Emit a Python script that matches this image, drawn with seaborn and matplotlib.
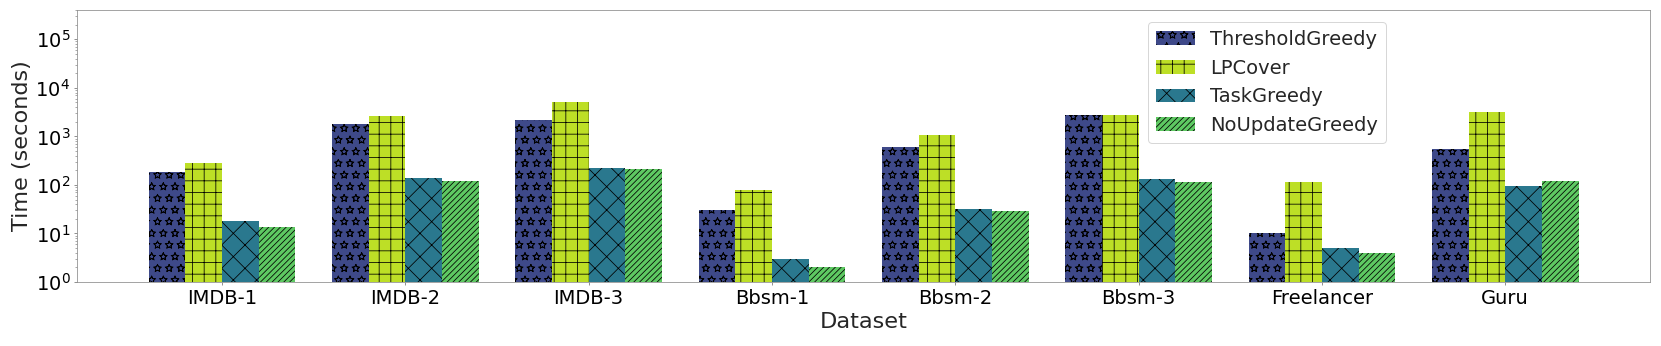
import pandas as pd
import seaborn as sns
import matplotlib.pyplot as plt
import matplotlib.hatch
from matplotlib.patches import Patch

# Running time per dataset (seconds)
datasets = ["IMDB-1", "IMDB-2", "IMDB-3", "Bbsm-1", "Bbsm-2", "Bbsm-3", "Freelancer", "Guru"]
algorithms = ["ThresholdGreedy", "LPCover", "TaskGreedy", "NoUpdateGreedy"]
threshold_greedy = [187, 1780, 2200, 30, 613, 2690, 10, 537]
lp_cover = [287, 2650, 5200, 80, 1070, 2800, 113, 3100]
task_greedy = [18, 138, 218, 3.0, 31.4, 130, 5.1, 93]
no_update_greedy = [13.8, 120, 215, 2.0, 28.5, 117, 4.0, 123]

colors = ["#3e4989", "#bddf26", "#2a788e", "#5ec962"]
hatches = ["*", "+", "x", "////"]

# long format table for seaborn
series = [threshold_greedy, lp_cover, task_greedy, no_update_greedy]
rows = []
for algo, vals in zip(algorithms, series):
    for ds, v in zip(datasets, vals):
        rows.append({"Dataset": ds, "Algorithm": algo, "Time": v})
data = pd.DataFrame(rows)

sns.set_style("ticks", rc={"axes.edgecolor": "0.55", "xtick.color": "0.45", "ytick.color": "0.45",
                           "xtick.major.size": 3.5, "ytick.major.size": 3.5,
                           "ytick.minor.size": 2, "axes.linewidth": 1.0})
plt.rcParams["font.family"] = ["DejaVu Sans"]
plt.rcParams["hatch.color"] = "black"
plt.rcParams["hatch.linewidth"] = 0.8
# outlined stars instead of solid ones
matplotlib.hatch.Stars.filled = False

dpi = 70
fig, ax = plt.subplots(figsize=(1661 / dpi, 346 / dpi), dpi=dpi)
fig.subplots_adjust(left=0.0464, right=0.9934, bottom=0.185, top=0.971)

ax.set_yscale("log")
sns.barplot(data=data, x="Dataset", y="Time", hue="Algorithm", order=datasets,
            hue_order=algorithms, palette=colors, saturation=1, errorbar=None,
            edgecolor="black", linewidth=0, legend=False, ax=ax)

# apply a hatch per algorithm
for container, h in zip(ax.containers, hatches):
    for bar in container:
        bar.set_hatch(h)

ax.set_ylim(1, 4e5)
ax.set_xlim(-0.79, 7.79)
ax.set_xlabel("Dataset", fontsize=23)
ax.set_ylabel("Time (seconds)", fontsize=23)
ax.tick_params(axis="both", labelsize=20, labelcolor="black")

handles = [Patch(facecolor=c, hatch=h, edgecolor="black", linewidth=0, label=a)
           for a, c, h in zip(algorithms, colors, hatches)]
ax.legend(handles=handles, loc="upper left", bbox_to_anchor=(0.681, 0.956),
          borderaxespad=0, fontsize=20, frameon=True)

plt.savefig("out.png", dpi=dpi)
